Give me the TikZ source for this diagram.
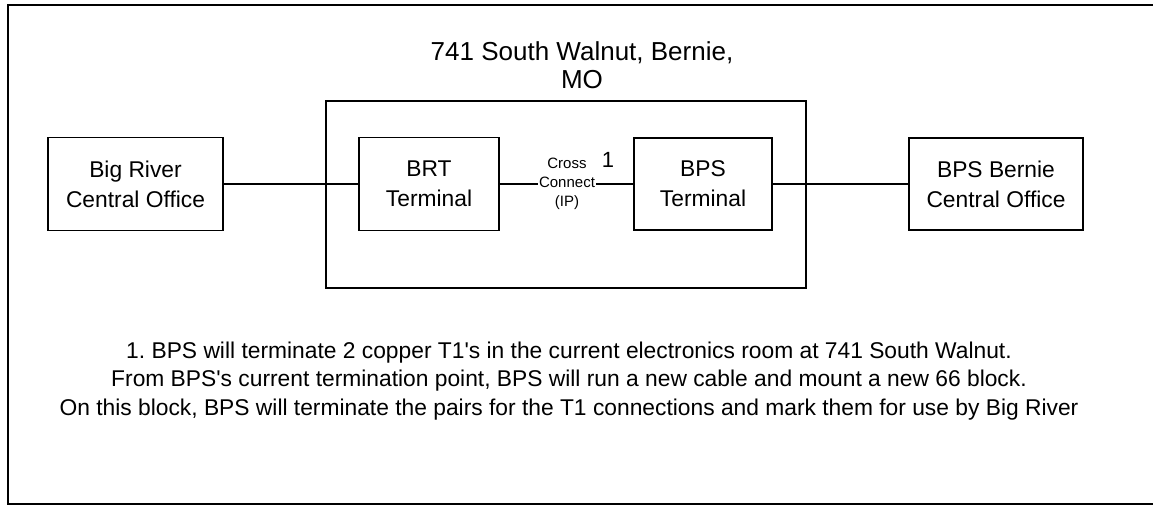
\documentclass[tikz,border=0pt]{standalone}
\usepackage{fontspec}
\setmainfont{Liberation Sans}
\frenchspacing
\begin{document}
\begin{tikzpicture}[x=0.5pt, y=-0.5pt,
    box/.style={draw, line width=0.9pt, align=center, inner sep=0pt,
        font=\fontsize{11.4}{15}\selectfont},
    conn/.style={line width=0.6pt}]
    \useasboundingbox (0,0) rectangle (1153,507);

    % 1. Khung ngoài (bên phải bị cắt)
    \draw[line width=1pt] (1153,5) -- (8,5) -- (8,504) -- (1153,504);

    % 2. Khung địa điểm và tiêu đề
    \node[box, minimum width=240pt, minimum height=93.5pt] (site) at (566,194.5) {};
    \node[align=center, font=\fontsize{13}{14}\selectfont] (addr) at (582,65)
        {741 South Walnut, Bernie,\\MO};

    % 3. Các hộp
    \node[box, minimum width=87.5pt, minimum height=46.5pt] (bigriver) at (135.5,184)
        {Big River\\Central Office};
    \node[box, minimum width=70pt, minimum height=46.5pt] (brt) at (429,184)
        {BRT\\Terminal};
    \node[box, minimum width=69pt, minimum height=46pt] (bpsterm) at (703,184)
        {BPS\\Terminal};
    \node[box, minimum width=87pt, minimum height=46pt] (bernie) at (996,184)
        {BPS Bernie\\Central Office};

    % 4. Đường nối
    \node[fill=white, inner sep=0.3pt, align=center,
        font=\fontsize{7.5}{9.5}\selectfont] (xconn) at (567,184)
        {Cross\\Connect\\(IP)};
    \draw[conn] (bigriver.east) -- (brt.west);
    \draw[conn] (brt.east) -- (xconn.west);
    \draw[conn] (xconn.east) -- (bpsterm.west);
    \draw[conn] (bpsterm.east) -- (bernie.west);
    \node[font=\fontsize{11}{12}\selectfont] (note1) at (608,160) {1};

    % 5. Ghi chú
    \node[align=center, font=\fontsize{11.4}{14.3}\selectfont] (notes) at (569,381)
        {1. BPS will terminate 2 copper T1\textquotesingle s in the current electronics room at 741 South Walnut.\\
         From BPS\textquotesingle s current termination point, BPS will run a new cable and mount a new 66 block.\\
         On this block, BPS will terminate the pairs for the T1 connections and mark them for use by Big River};

\end{tikzpicture}
\end{document}
